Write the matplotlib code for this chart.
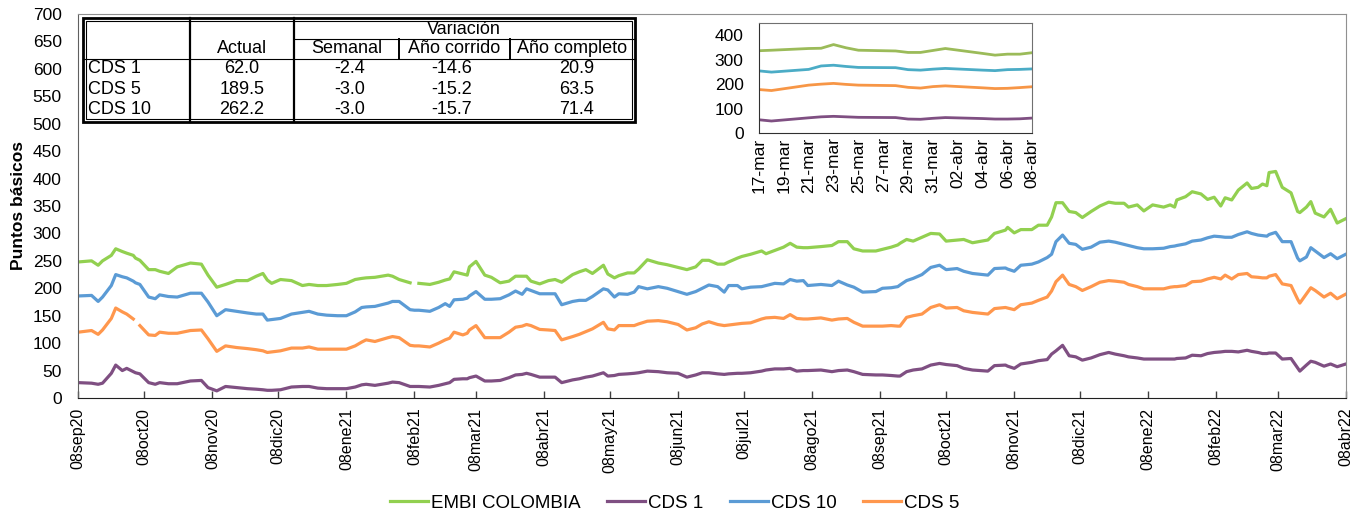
import numpy as np
import pandas as pd
import matplotlib
matplotlib.use('Agg')
import matplotlib.pyplot as plt
from matplotlib.patches import Rectangle

plt.rcParams['font.family'] = ['Liberation Sans', 'DejaVu Sans']

nan = np.nan

# --- serie principal (puntos básicos) ---
fechas = [
    '2020-09-08', '2020-09-14', '2020-09-17', '2020-09-19', '2020-09-23', '2020-09-25', '2020-09-28', '2020-09-30',
    '2020-10-03', '2020-10-04', '2020-10-06', '2020-10-10', '2020-10-13', '2020-10-15', '2020-10-19', '2020-10-23',
    '2020-10-29', '2020-11-03', '2020-11-06', '2020-11-10', '2020-11-14', '2020-11-19', '2020-11-24', '2020-11-28',
    '2020-12-01', '2020-12-03', '2020-12-05', '2020-12-09', '2020-12-14', '2020-12-19', '2020-12-22', '2020-12-26',
    '2020-12-30', '2021-01-04', '2021-01-08', '2021-01-12', '2021-01-15', '2021-01-17', '2021-01-21', '2021-01-27',
    '2021-01-29', '2021-02-01', '2021-02-06', '2021-02-08', '2021-02-10', '2021-02-15', '2021-02-19', '2021-02-22',
    '2021-02-24', '2021-02-26', '2021-03-02', '2021-03-04', '2021-03-05', '2021-03-08', '2021-03-12', '2021-03-15',
    '2021-03-19', '2021-03-23', '2021-03-26', '2021-03-29', '2021-03-31', '2021-04-02', '2021-04-06', '2021-04-10',
    '2021-04-13', '2021-04-16', '2021-04-21', '2021-04-24', '2021-04-27', '2021-04-30', '2021-05-05', '2021-05-07',
    '2021-05-10', '2021-05-12', '2021-05-16', '2021-05-19', '2021-05-21', '2021-05-25', '2021-05-30', '2021-06-03',
    '2021-06-08', '2021-06-12', '2021-06-16', '2021-06-19', '2021-06-22', '2021-06-26', '2021-06-29', '2021-07-01',
    '2021-07-05', '2021-07-07', '2021-07-11', '2021-07-16', '2021-07-18', '2021-07-22', '2021-07-26', '2021-07-29',
    '2021-08-01', '2021-08-04', '2021-08-06', '2021-08-12', '2021-08-17', '2021-08-20', '2021-08-24', '2021-08-27',
    '2021-08-31', '2021-09-06', '2021-09-09', '2021-09-13', '2021-09-16', '2021-09-17', '2021-09-20', '2021-09-23',
    '2021-09-27', '2021-10-01', '2021-10-05', '2021-10-08', '2021-10-13', '2021-10-16', '2021-10-20', '2021-10-27',
    '2021-10-30', '2021-11-04', '2021-11-05', '2021-11-08', '2021-11-11', '2021-11-16', '2021-11-19', '2021-11-23',
    '2021-11-25', '2021-11-27', '2021-11-30', '2021-12-03', '2021-12-06', '2021-12-09', '2021-12-13', '2021-12-17',
    '2021-12-21', '2021-12-24', '2021-12-28', '2021-12-30', '2022-01-03', '2022-01-06', '2022-01-10', '2022-01-15',
    '2022-01-18', '2022-01-20', '2022-01-21', '2022-01-25', '2022-01-28', '2022-02-01', '2022-02-04', '2022-02-07',
    '2022-02-10', '2022-02-12', '2022-02-15', '2022-02-18', '2022-02-22', '2022-02-24', '2022-02-27', '2022-03-01',
    '2022-03-03', '2022-03-04', '2022-03-07', '2022-03-10', '2022-03-14', '2022-03-17', '2022-03-18', '2022-03-21',
    '2022-03-23', '2022-03-25', '2022-03-29', '2022-04-01', '2022-04-04', '2022-04-08',
]
embi = [
    248, 250, 242, 250, 260, 272, 267, 264, 260, 255, 251, 234, 234, 231, 227, 239,
    246, 244, 224, 202, 207, 214, 214, 222, 227, 215, 209, 216, 214, 205, 207, 205,
    205, 207, 209, 216, 218, 219, 220, 224, 222, 216, 210, nan, 209, 207, 211, 215,
    217, 230, 226, 224, 239, 249, 224, 220, 210, 213, 222, 222, 222, 213, 208, 214,
    216, 211, 225, 230, 234, 227, 242, 226, 219, 223, 228, 228, 235, 252, 246, 243,
    238, 234, 239, 251, 251, 244, 244, 248, 255, 258, 262, 268, 263, 269, 275, 282,
    275, 274, 274, 276, 278, 285, 285, 272, 268, 268, 271, 275, 279, 282, 289, 286,
    293, 300, 299, 286, 288, 289, 283, 288, 300, 306, 311, 301, 307, 307, 315, 315,
    330, 356, 356, 340, 338, 329, 340, 350, 357, 355, 355, 348, 352, 341, 352, 348,
    352, 348, 361, 367, 376, 372, 362, 366, 350, 365, 361, 379, 392, 382, 384, 390,
    387, 411, 413, 384, 374, 340, 338, 348, 358, 337, 330, 344, 319, 327,
]
cds10 = [
    186, 187, 176, 184, 205, 225, 221, 219, 213, 210, 207, 184, 181, 188, 185, 184,
    191, 191, 175, 150, 161, 158, 155, 153, 153, 142, 143, 145, 153, 156, 158, 153,
    151, 150, 150, 157, 165, 166, 167, 173, 176, 176, 161, 160, 160, 158, 165, 172,
    167, 179, 180, 182, 186, 194, 180, 180, 181, 188, 195, 189, 199, 196, 190, 190,
    190, 170, 176, 178, 178, 185, 199, 197, 184, 190, 189, 193, 203, 199, 203, 200,
    194, 189, 194, 200, 206, 203, 193, 205, 205, 199, 202, 203, 205, 209, 208, 216,
    213, 214, 205, 207, 205, 213, 206, 202, 193, 194, 200, 201, 203, 206, 214, 218,
    225, 238, 242, 234, 236, 231, 227, 224, 236, 237, 235, 231, 242, 244, 248, 256,
    262, 285, 297, 282, 280, 271, 275, 284, 286, 284, 280, 278, 274, 272, 272, 273,
    276, 277, 278, 281, 286, 288, 292, 295, 294, 293, 293, 298, 303, 300, 297, 296,
    295, 298, 302, 285, 285, 255, 250, 257, 274, 268, 256, 263, 254, 262.2,
]
cds5 = [
    120, 123, 116, 124, 145, 164, 157, 153, 144, nan, 132, 115, 114, 120, 118, 118,
    123, 124, 108, 85, 95, 92, 90, 88, 86, 83, 84, 86, 91, 91, 93, 89,
    89, 89, 89, 95, 102, 106, 103, 110, 112, 110, 96, 95, 95, 93, 100, 106,
    109, 120, 115, 118, 124, 132, 110, 110, 110, 120, 129, 131, 134, 132, 125, 124,
    123, 106, 112, 116, 121, 126, 138, 126, 124, 132, 132, 132, 135, 140, 141, 139,
    134, 124, 128, 135, 139, 134, 132, 133, 135, 136, 137, 144, 146, 147, 145, 152,
    145, 144, 144, 146, 142, 144, 145, 138, 131, 131, 131, 132, 131, 131, 147, 150,
    153, 165, 170, 164, 165, 159, 156, 153, 163, 165, 164, 161, 170, 173, 178, 184,
    195, 212, 224, 207, 203, 196, 203, 211, 214, 213, 211, 207, 203, 199, 199, 199,
    202, 203, 203, 205, 212, 213, 217, 220, 217, 224, 217, 225, 227, 221, 220, 219,
    219, 222, 225, 208, 205, 180, 173, 190, 201, 196, 184, 191, 181, 189.5,
]
cds1 = [
    28, 27, 25, 27, 45, 60, 50, 54, 48, 46, 44, 28, 25, 28, 26, 26,
    31, 32, 19, 13, 21, 19, 17, 16, 15, 14, 14, 15, 20, 21, 21, 18,
    17, 17, 17, 20, 24, 25, 23, 27, 29, 28, 21, 21, 21, 20, 23, 26,
    28, 34, 35, 35, 37, 40, 31, 31, 32, 37, 42, 43, 45, 43, 38, 38,
    38, 28, 33, 35, 38, 40, 46, 40, 41, 43, 44, 45, 46, 49, 48, 46,
    45, 38, 42, 46, 46, 44, 43, 44, 45, 45, 46, 49, 51, 53, 53, 54,
    49, 50, 50, 51, 48, 50, 51, 48, 43, 42, 42, 41, 40, 40, 48, 51,
    53, 60, 63, 61, 59, 54, 51, 49, 59, 60, 58, 54, 62, 65, 68, 70,
    80, 86, 96, 77, 75, 69, 73, 79, 83, 80, 77, 75, 73, 71, 71, 71,
    71, 71, 72, 73, 78, 77, 81, 83, 84, 85, 85, 84, 87, 85, 83, 81,
    81, 82, 82, 71, 72, 55, 49, 60, 67, 65, 58, 62, 57, 62.0,
]

# --- recuadro: último periodo ---
fechas_rec = ['2022-03-17', '2022-03-18', '2022-03-21', '2022-03-22', '2022-03-23', '2022-03-24',
              '2022-03-25', '2022-03-28', '2022-03-29', '2022-03-30', '2022-03-31', '2022-04-01',
              '2022-04-04', '2022-04-05', '2022-04-06', '2022-04-07', '2022-04-08']
embi_rec = [336, 338, 345, 346, 361, 348, 338, 335, 329, 329, 337, 345, 325, 318, 322, 322, 328]
cds10_rec = [254, 249, 260, 274, 277, 272, 268, 267, 259, 257, 261, 264, 257, 255, 259, 260, 262]
cds5_rec = [178, 174, 196, 200, 203, 199, 196, 194, 187, 184, 190, 193, 185, 182, 183, 186, 189.5]
cds1_rec = [55, 50, 63, 67, 69, 67, 65, 64, 58, 57, 61, 64, 60, 58, 58, 59, 62]

# --- tabla ---
tabla_filas = ['CDS 1', 'CDS 5', 'CDS 10']
tabla_cols = ['Actual', 'Semanal', 'Año corrido', 'Año completo']
tabla_actual = ['62.0', '189.5', '262.2']
tabla_semanal = ['-2.4', '-3.0', '-3.0']
tabla_corrido = ['-14.6', '-15.2', '-15.7']
tabla_completo = ['20.9', '63.5', '71.4']

meses = ['ene', 'feb', 'mar', 'abr', 'may', 'jun', 'jul', 'ago', 'sep', 'oct', 'nov', 'dic']

c_embi, c_cds1, c_cds10, c_cds5 = '#92D050', '#7F4F82', '#5B9BD5', '#FF974D'

fig = plt.figure(figsize=(13.63, 5.15), dpi=100)
ax = fig.add_axes([0.0575, 0.2272, 0.9300, 0.7456])

x = pd.to_datetime(fechas)
ax.plot(x, embi, color=c_embi, lw=2.3, label='EMBI COLOMBIA')
ax.plot(x, cds1, color=c_cds1, lw=2.3, label='CDS 1')
ax.plot(x, cds10, color=c_cds10, lw=2.3, label='CDS 10')
ax.plot(x, cds5, color=c_cds5, lw=2.3, label='CDS 5')

ticks = pd.date_range('2020-09-08', '2022-04-08', freq=pd.DateOffset(months=1))
ax.set_xticks(ticks)
ax.set_xticklabels([f"{d.day:02d}{meses[d.month - 1]}{d.year % 100:02d}" for d in ticks], rotation=90)
ax.set_xlim(ticks[0], ticks[-1])
ax.set_ylim(0, 700)
ax.set_yticks(range(0, 701, 50))
ax.tick_params(axis='x', direction='in', length=5, width=1, pad=7, labelsize=11.5, color='#404040')
ax.tick_params(axis='y', length=0, pad=12, labelsize=12.5)
ax.spines['bottom'].set_color('#202020')
ax.spines['left'].set_color('#606060')
ax.spines['top'].set_color('#909090')
ax.spines['right'].set_color('#909090')
ax.set_ylabel('Puntos básicos', fontsize=12.5, fontweight='bold')
ax.yaxis.set_label_coords(-0.041, 0.5)

fig.legend(loc='center', bbox_to_anchor=(675 / 1363, 1 - 503 / 515), ncol=4, frameon=False,
           fontsize=13.5, handlelength=2.0, handletextpad=0.2, columnspacing=1.4)

# tabla dibujada en coordenadas de pixel
tb = fig.add_axes([0, 0, 1, 1], zorder=5)
tb.set_xlim(0, 1363)
tb.set_ylim(515, 0)
tb.axis('off')
tb.patch.set_alpha(0)
tb.add_patch(Rectangle((83, 18), 552, 104, facecolor='white', edgecolor='black', lw=2))
tb.add_patch(Rectangle((86, 21), 546, 98, facecolor='none', edgecolor='black', lw=0.8))
for xv in (190, 294):
    tb.plot([xv, xv], [18, 122], color='black', lw=1.6)
for xv in (399, 510):
    tb.plot([xv, xv], [38.5, 58.5], color='black', lw=1.4)
tb.plot([294, 635], [38.5, 38.5], color='black', lw=0.8)
tb.plot([83, 635], [58.5, 58.5], color='black', lw=0.8)
fs_t = 13
tb.text(464, 29, 'Variación', ha='center', va='center', fontsize=fs_t)
col_x = [242, 347, 454, 572]
for cx, nombre in zip(col_x, tabla_cols):
    tb.text(cx, 48.5, nombre, ha='center', va='center', fontsize=fs_t)
val_x = [242, 350, 452, 577]
for i, fila in enumerate(tabla_filas):
    yv = 68.5 + i * 20.5
    tb.text(88, yv, fila, ha='left', va='center', fontsize=fs_t)
    for cx, col in zip(val_x, (tabla_actual, tabla_semanal, tabla_corrido, tabla_completo)):
        tb.text(cx, yv, col[i], ha='center', va='center', fontsize=fs_t)

# recuadro
ins = fig.add_axes([759 / 1363, 1 - 133.3 / 515, 273.3 / 1363, 110.6 / 515], zorder=6)
xr = pd.to_datetime(fechas_rec)
ins.plot(xr, embi_rec, color='#9BBB59', lw=2)
ins.plot(xr, cds10_rec, color='#4BACC6', lw=2)
ins.plot(xr, cds5_rec, color='#F79646', lw=2)
ins.plot(xr, cds1_rec, color=c_cds1, lw=2)
ticks_r = pd.date_range('2022-03-17', '2022-04-08', freq='2D')
ins.set_xticks(ticks_r)
ins.set_xticklabels([f"{d.day:02d}-{meses[d.month - 1]}" for d in ticks_r], rotation=90)
ins.set_xlim(ticks_r[0], ticks_r[-1])
ins.set_ylim(0, 450)
ins.set_yticks(range(0, 401, 100))
ins.tick_params(axis='x', length=0, pad=3, labelsize=12.5)
ins.tick_params(axis='y', length=0, pad=11, labelsize=12.5)
for s in ('left', 'bottom'):
    ins.spines[s].set_color('#303030')
for s in ('top', 'right'):
    ins.spines[s].set_color('#707070')

fig.savefig('out.png', dpi=100)
